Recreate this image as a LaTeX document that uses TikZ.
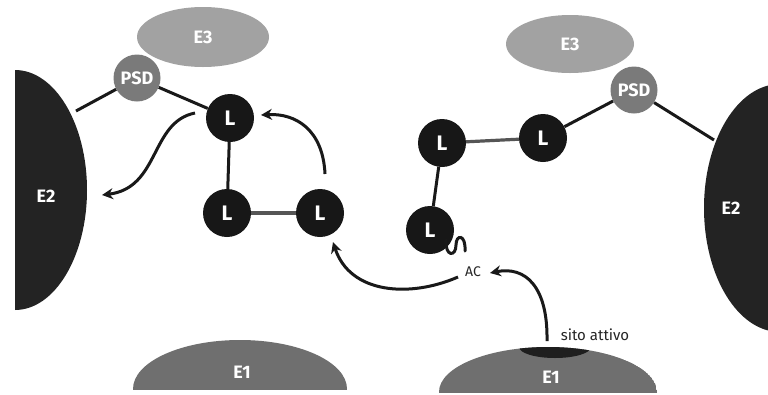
\documentclass[tikz,border=0pt]{standalone}
\usepackage{fontspec}
\setmainfont{Fira Sans}
\usetikzlibrary{shapes.geometric,arrows.meta}
\definecolor{lnode}{HTML}{171717}
\definecolor{psdgray}{HTML}{7A7A7A}
\definecolor{e3gray}{HTML}{A2A2A2}
\definecolor{e2dark}{HTML}{232323}
\definecolor{e1gray}{HTML}{6F6F6F}
\definecolor{sitedark}{HTML}{1E1E1E}
\definecolor{bondgray}{HTML}{555555}
\begin{document}
\begin{tikzpicture}[x=1pt,y=-1pt,
  lig/.style={circle,fill=lnode,minimum size=48pt,inner sep=0pt,text=white,font=\bfseries\fontsize{21}{21}\selectfont},
  psd/.style={circle,fill=psdgray,minimum size=47pt,inner sep=0pt,text=white,font=\bfseries\fontsize{18}{18}\selectfont},
  ethree/.style={ellipse,fill=e3gray,inner sep=0pt,text=white,font=\bfseries\fontsize{18}{18}\selectfont},
  elabel/.style={text=white,font=\bfseries\fontsize{18}{18}\selectfont},
  plain/.style={text=black!85,font=\fontsize{15}{15}\selectfont},
  bond/.style={line width=3pt,draw=black!90},
  gbond/.style={line width=3.2pt,draw=bondgray},
  arr/.style={line width=3pt,draw=black!90,-{Stealth[length=11pt,width=11pt]}}]
\useasboundingbox[fill=white] (0,0) rectangle (768,394);

% ---------- large shapes ----------
% left E2
\begin{scope}
  \clip (15,0) rectangle (300,394);
  \fill[e2dark] (15,190) ellipse [x radius=72, y radius=120];
\end{scope}
% right E2
\begin{scope}
  \clip (600,0) rectangle (768,394);
  \fill[e2dark] (780,208) ellipse [x radius=76, y radius=124];
\end{scope}
% left E1
\begin{scope}
  \clip (0,0) rectangle (768,389);
  \fill[e1gray] (240,389) ellipse [x radius=107, y radius=49];
\end{scope}
% right E1 with active site
\begin{scope}
  \clip (0,0) rectangle (768,392);
  \clip (548,392) ellipse [x radius=109, y radius=45];
  \fill[e1gray] (548,392) ellipse [x radius=109, y radius=45];
  \fill[sitedark] (555,347) ellipse [x radius=36, y radius=11];
\end{scope}

\node[elabel] (e2l) at (46,196) {E2};
\node[elabel] (e2r) at (731,208) {E2};
\node[elabel] (e1l) at (242,372) {E1};
\node[elabel] (e1r) at (551,377) {E1};

% ---------- E3 ----------
\node[ethree,minimum width=132pt,minimum height=60pt] (e3l) at (203,37) {E3};
\node[ethree,minimum width=128pt,minimum height=58pt] (e3r) at (570,44) {E3};

% ---------- PSD and L ----------
\node[psd] (psdl) at (137,78) {PSD};
\node[psd] (psdr) at (634,90) {PSD};

\node[lig] (la) at (230,118) {L};
\node[lig] (lb) at (227,213) {L};
\node[lig] (lc) at (320,213) {L};

\node[lig] (ld) at (442,143) {L};
\node[lig] (le) at (543,138) {L};
\node[lig] (lf) at (430,230) {L};

% anchor points on E2 surfaces
\coordinate (e2lp) at (76,111);
\coordinate (e2rp) at (714,140);

% ---------- bonds ----------
\draw[bond] (psdl) -- (e2lp);
\draw[bond] (psdl) -- (la);
\draw[bond] (la) -- (lb);
\draw[gbond] (lb) -- (lc);

\draw[bond] (psdr) -- (e2rp);
\draw[bond] (psdr) -- (le);
\draw[gbond] (ld) -- (le);
\draw[bond] (ld) -- (lf);

% squiggle (AC tail)
\coordinate (sq0) at (446,240);
\coordinate (sq1) at (456,245);
\coordinate (sq2) at (465,251);
\draw[line width=3pt,draw=black!90,line cap=round]
  (sq0) .. controls (445,257) and (456,257) .. (sq1)
        .. controls (456,234) and (466,234) .. (sq2);

% ---------- labels ----------
\node[plain,font=\fontsize{14}{14}\selectfont] (ac) at (473,272) {AC};
\node[plain] (site) at (595,335) {sito attivo};

% ---------- arrows ----------
\coordinate (a1s) at (195,113);
\coordinate (a1e) at (102,195);
\draw[arr] (a1s) .. controls (150,122) and (160,188) .. (a1e);

\coordinate (a2s) at (325,174);
\coordinate (a2e) at (261,115);
\draw[arr] (a2s) .. controls (323,130) and (296,113) .. (a2e);

\coordinate (a3s) at (458,277);
\coordinate (a3e) at (333,242);
\draw[arr] (a3s) .. controls (410,298) and (350,294) .. (a3e);

\coordinate (a4s) at (547,341);
\coordinate (a4e) at (490,273);
\draw[arr] (a4s) .. controls (548,286) and (525,266) .. (a4e);
\end{tikzpicture}
\end{document}
